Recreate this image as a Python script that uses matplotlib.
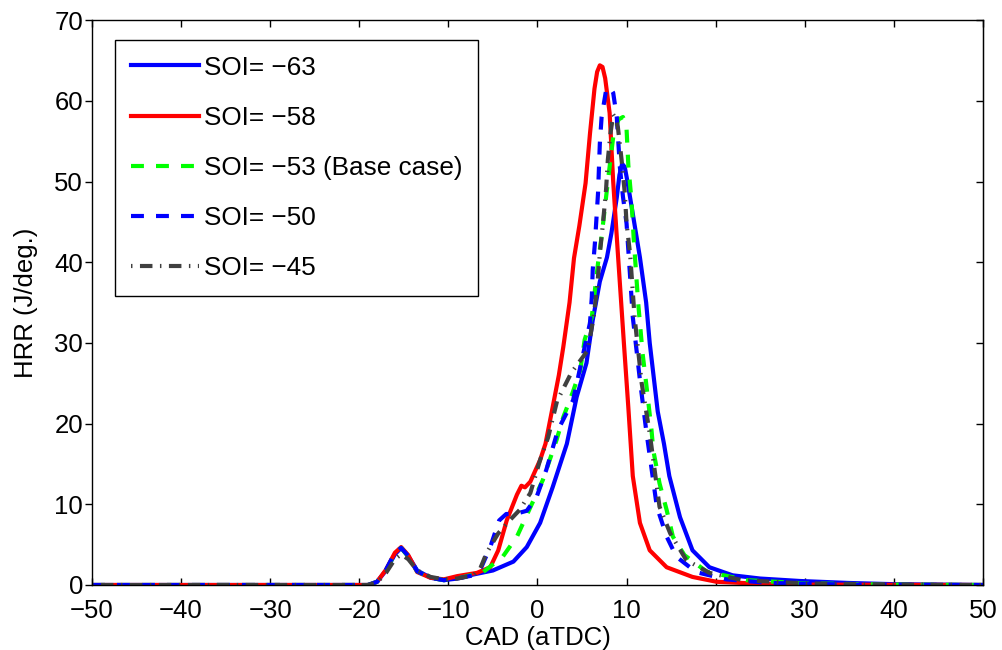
import numpy as np
import matplotlib
matplotlib.use("Agg")
import matplotlib.pyplot as plt

plt.rcParams['font.family'] = ['Liberation Sans', 'DejaVu Sans']

# Values (CAD in deg aTDC, HRR in J/deg.)
cad_63 = [-50, -19, -18, -17, -16, -15.3, -14.5, -13.5, -12, -10.5, -9, -7.2, -5, -2.7, -1.2,
          0.3, 1.7, 3.3, 4.4, 5.5, 6.2, 7.0, 7.8, 8.3, 8.9, 9.2, 9.5, 9.8, 10.1, 10.7, 11.5, 12.2, 12.6,
          13.5, 14.2, 14.8, 16.0, 17.4, 19.3, 21.9, 25, 29.4, 35, 40, 50]
hrr_63 = [0, 0, 0.4, 1.8, 3.8, 4.6, 3.6, 1.8, 0.9, 0.6, 0.8, 1.3, 1.8, 2.9, 4.7,
          7.7, 12.1, 17.5, 23.3, 27.5, 32.8, 37.6, 40.6, 43.6, 48.0, 50.8, 52.2, 51.8, 50.0, 46.0, 40.6, 35.0, 30.0,
          21.5, 17.5, 13.5, 8.4, 4.3, 2.2, 1.2, 0.8, 0.5, 0.25, 0.1, 0]

cad_58 = [-50, -19, -18, -17, -16, -15.3, -14.5, -13.5, -12, -10.5, -9, -6.8, -5.3, -4.4, -3.45,
          -2.3, -1.8, -1.4, -0.8, 0.3, 0.9, 1.7, 2.4, 2.9, 3.6, 4.1, 4.7, 5.4, 5.9, 6.4, 6.7, 7.0,
          7.3, 7.6, 8.1, 8.5, 9.0, 9.7, 10.2, 10.7, 11.5, 12.6, 14.5, 17.4, 20.1, 25, 30, 50]
hrr_58 = [0, 0, 0.4, 1.9, 4.0, 4.7, 3.7, 1.6, 0.9, 0.7, 1.1, 1.5, 2.2, 4.3, 8.0,
          11.2, 12.3, 12.1, 12.8, 15.5, 17.5, 22.0, 26.0, 29.5, 35.0, 40.5, 44.5, 49.8, 56.0, 61.5, 63.6, 64.4,
          64.2, 62.8, 58.5, 50.0, 41.5, 30.0, 22.0, 13.5, 7.7, 4.3, 2.2, 1.0, 0.4, 0.15, 0.05, 0]

cad_53 = [-50, -19, -18, -17, -16, -15.3, -14.5, -13.5, -12, -10.5, -9, -6.1, -3.9, -2.3, -1.1,
          0.6, 2.15, 2.9, 4.0, 4.8, 5.3, 6.1, 6.8, 7.2, 7.9, 8.5, 9.1, 9.6, 10.0, 10.2, 10.55,
          10.8, 11.3, 11.8, 12.2, 12.8, 13.0, 13.7, 14.5, 15.2, 16.5, 19, 23.5, 30, 40, 50]
hrr_53 = [0, 0, 0.4, 1.8, 3.9, 4.6, 3.5, 1.7, 0.9, 0.6, 0.8, 1.6, 3.5, 6.0, 8.9,
          13.0, 18.0, 20.8, 24.0, 26.6, 30.4, 33.2, 39.9, 43.2, 50.0, 55.5, 57.7, 58.0, 56.5, 52.0, 47.7,
          43.0, 35.0, 28.7, 25.0, 19.2, 16.7, 12.6, 9.3, 6.0, 3.7, 1.65, 0.6, 0.2, 0.05, 0]

cad_50 = [-50, -19, -18, -17, -16, -15.3, -14.5, -13.5, -12, -10.5, -9, -7.2, -6.3, -5.3, -4.3,
          -3.5, -2.5, -1.2, -0.1, 1.0, 2.3, 4.0, 5.3, 5.9, 6.1, 6.2, 6.45, 6.8, 7.0, 7.2, 7.7,
          8.1, 8.5, 8.9, 9.25, 9.6, 10.0, 10.4, 10.7, 11.5, 12.2, 13.4, 14.5, 15.6, 17.8, 21.2, 26, 35, 50]
hrr_50 = [0, 0, 0.4, 1.9, 4.0, 4.6, 3.6, 1.7, 0.9, 0.6, 0.8, 1.2, 2.2, 4.7, 8.0,
          8.8, 8.8, 9.2, 10.9, 14.3, 19.2, 22.9, 29.5, 32.5, 35.7, 39.0, 42.4, 48.6, 54.7, 58.0, 61.3,
          61.7, 61.0, 58.0, 51.8, 48.1, 44.8, 38.2, 33.2, 25.4, 19.2, 9.7, 6.0, 3.5, 1.6, 0.7, 0.25, 0.05, 0]

cad_45 = [-50, -19, -18, -17, -16, -15.3, -14.5, -13.5, -12, -10.5, -9, -7.2, -6.4, -5.7, -4.4,
          -3.3, -2.0, -0.8, 0.3, 1.2, 2.2, 3.8, 5.66, 6.3, 6.7, 7.0, 7.35, 7.7, 7.9, 8.2, 8.5,
          8.8, 9.03, 9.44, 9.8, 10.0, 10.4, 10.9, 11.7, 12.6, 13.7, 14.9, 16.7, 19.3, 23, 30, 40, 50]
hrr_45 = [0, 0, 0.3, 1.5, 3.2, 3.8, 3.2, 1.8, 1.0, 0.7, 0.8, 1.2, 2.1, 4.0, 6.4,
          7.8, 9.3, 11.4, 15.5, 18.3, 22.8, 26.3, 29.1, 33.2, 36.9, 41.0, 44.8, 49.0, 52.7, 56.0, 58.3,
          57.8, 56.7, 52.7, 48.6, 44.8, 41.0, 33.2, 25.0, 18.8, 9.7, 6.4, 3.1, 1.5, 0.6, 0.2, 0.05, 0]

labels = ["SOI= \u221263", "SOI= \u221258", "SOI= \u221253 (Base case)", "SOI= \u221250", "SOI= \u221245"]
x_ticks = [-50, -40, -30, -20, -10, 0, 10, 20, 30, 40, 50]
y_ticks = [0, 10, 20, 30, 40, 50, 60, 70]

fig = plt.figure(figsize=(10.03, 6.5), dpi=100)
ax = fig.add_axes([0.0917, 0.1, 0.8883, 0.869])

lw = 3
ax.plot(cad_63, hrr_63, color='#0000ff', lw=lw, label=labels[0])
ax.plot(cad_58, hrr_58, color='#ff0000', lw=lw, label=labels[1])
ax.plot(cad_53, hrr_53, color='#00ff00', lw=lw, dashes=(3.1, 2.9), label=labels[2])
ax.plot(cad_50, hrr_50, color='#0000ff', lw=lw, dashes=(3.1, 2.9), label=labels[3])
ax.plot(cad_45, hrr_45, color='#404040', lw=lw, dashes=(0.35, 1.8, 3.0, 1.8), label=labels[4])

ax.set_xlim(-50, 50)
ax.set_ylim(0, 70)
ax.set_xticks(x_ticks)
ax.set_yticks(y_ticks)

# ticks: x inward (bottom and top), y outward on left, inward on right
ax.tick_params(axis='x', which='both', direction='in', top=True, length=5, width=1,
               labelsize=18.5, pad=10)
ax.tick_params(axis='y', which='both', direction='out', length=5, width=1,
               labelsize=18.5, pad=1.5)
ax_r = ax.secondary_yaxis('right')
ax_r.set_yticks(y_ticks)
ax_r.tick_params(direction='in', length=5, width=1, labelright=False)

for s in ax.spines.values():
    s.set_linewidth(1.0)
    s.set_color('black')

ax.set_xlabel("CAD (aTDC)", fontsize=18.5, labelpad=2)
ax.set_ylabel("HRR (J/deg.)", fontsize=18.5, labelpad=12)

leg = ax.legend(loc='upper left', bbox_to_anchor=(0.026, 0.965), borderaxespad=0,
                fontsize=18.8, frameon=True, fancybox=False, framealpha=1,
                edgecolor='black', handlelength=2.6, handletextpad=0.2,
                labelspacing=1.0, borderpad=0.6)
leg.get_frame().set_linewidth(1.0)

fig.savefig("out.png", dpi=100)
